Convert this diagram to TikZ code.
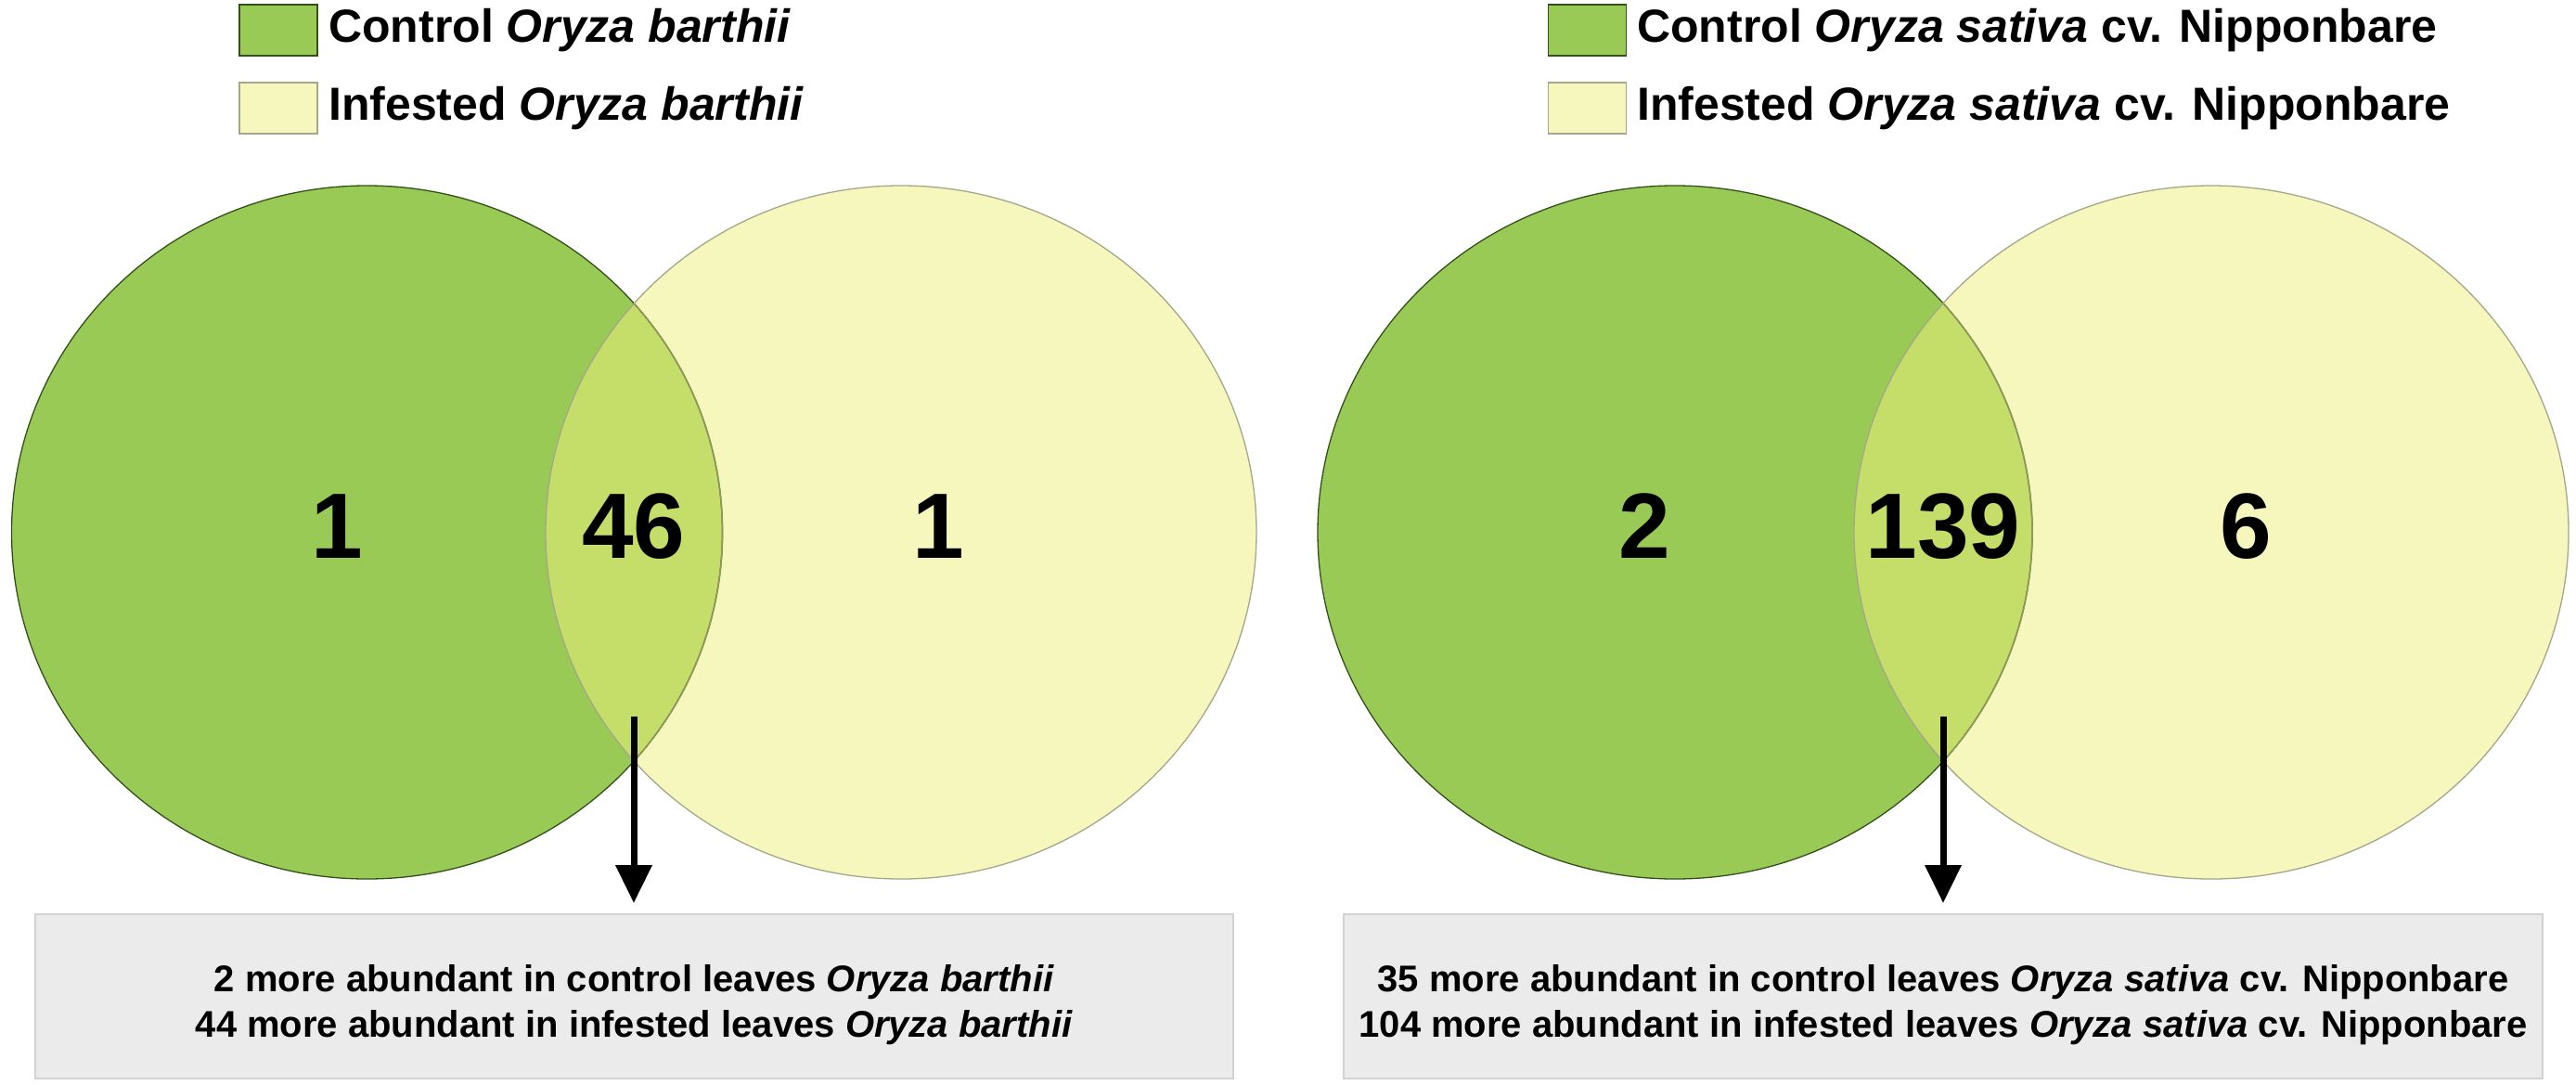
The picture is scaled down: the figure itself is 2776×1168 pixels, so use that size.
\documentclass[tikz,border=0pt]{standalone}
\usepackage{fontspec}
\setmainfont{Liberation Sans}
\usetikzlibrary{arrows.meta}
\definecolor{ctrlgreen}{HTML}{9ACA56}
\definecolor{infyellow}{HTML}{F5F7BD}
\definecolor{overlapc}{HTML}{C5DD69}
\definecolor{ctrledge}{HTML}{34501A}
\definecolor{infedge}{HTML}{A6A68A}
\definecolor{inneredge}{HTML}{8E9A5A}
\definecolor{boxfill}{HTML}{EBEBEB}
\definecolor{boxedge}{HTML}{D2D2D2}
\tikzset{
  legsq/.style={draw, line width=1.5bp, minimum width=84bp, minimum height=55bp, inner sep=0pt},
  legtext/.style={anchor=west, inner sep=0pt, font=\fontsize{50bp}{60bp}\selectfont\bfseries},
  count/.style={inner sep=0pt, font=\fontsize{100bp}{110bp}\selectfont\bfseries},
  resbox/.style={draw=boxedge, line width=2bp, fill=boxfill, minimum width=1291bp, minimum height=177bp, inner sep=0pt},
  restext/.style={anchor=base, inner sep=0pt, font=\fontsize{40bp}{46bp}\selectfont\bfseries},
  downarrow/.style={line width=7bp, -{Triangle[length=41bp,width=38bp]}, shorten >=11bp},
}
\begin{document}
\begin{tikzpicture}[x=1bp,y=-1bp]
\useasboundingbox (0,0) rectangle (2776,1168);
\fill[white] (0,0) rectangle (2776,1168);

% ---------- left Venn ----------
\fill[ctrlgreen] (395.5,573.5) ellipse [x radius=383bp, y radius=373.5bp];
\fill[infyellow] (971,573.5) ellipse [x radius=383bp, y radius=373.5bp];
\begin{scope}
  \clip (395.5,573.5) ellipse [x radius=383bp, y radius=373.5bp];
  \fill[overlapc] (971,573.5) ellipse [x radius=383bp, y radius=373.5bp];
\end{scope}
\draw[ctrledge, line width=1.3bp] (395.5,573.5) ellipse [x radius=383bp, y radius=373.5bp];
\begin{scope}
  \clip (971,573.5) ellipse [x radius=383bp, y radius=373.5bp];
  \draw[inneredge, line width=1.6bp] (395.5,573.5) ellipse [x radius=383bp, y radius=373.5bp];
\end{scope}
\draw[infedge, line width=1.3bp] (971,573.5) ellipse [x radius=383bp, y radius=373.5bp];

% ---------- right Venn ----------
\fill[ctrlgreen] (1805,573.5) ellipse [x radius=385bp, y radius=373.5bp];
\fill[infyellow] (2383,573.5) ellipse [x radius=385bp, y radius=373.5bp];
\begin{scope}
  \clip (1805,573.5) ellipse [x radius=385bp, y radius=373.5bp];
  \fill[overlapc] (2383,573.5) ellipse [x radius=385bp, y radius=373.5bp];
\end{scope}
\draw[ctrledge, line width=1.3bp] (1805,573.5) ellipse [x radius=385bp, y radius=373.5bp];
\begin{scope}
  \clip (2383,573.5) ellipse [x radius=385bp, y radius=373.5bp];
  \draw[inneredge, line width=1.6bp] (1805,573.5) ellipse [x radius=385bp, y radius=373.5bp];
\end{scope}
\draw[infedge, line width=1.3bp] (2383,573.5) ellipse [x radius=385bp, y radius=373.5bp];

% ---------- counts ----------
\node[count] (nL1) at (363,567) {1};
\node[count] (nL2) at (683,567) {46};
\node[count] (nL3) at (1011,567) {1};
\node[count] (nR1) at (1772,567) {2};
\node[count] (nR2) at (2094,567) {139};
\node[count] (nR3) at (2420,567) {6};

% ---------- legends ----------
\node[legsq, draw=ctrledge, fill=ctrlgreen] (lsq1) at (300,32.5) {};
\node[legsq, draw=infedge, fill=infyellow] (lsq2) at (300,116.5) {};
\node[legtext] (lt1) at (354,32.5) {Control \textit{Oryza barthii}};
\node[legtext] (lt2) at (354,116.5) {Infested \textit{Oryza barthii}};

\node[legsq, draw=ctrledge, fill=ctrlgreen] (rsq1) at (1710.5,32.5) {};
\node[legsq, draw=infedge, fill=infyellow] (rsq2) at (1710.5,116.5) {};
\node[legtext] (rt1) at (1764,32.5) {Control \textit{Oryza sativa} cv. Nipponbare};
\node[legtext] (rt2) at (1764,116.5) {Infested \textit{Oryza sativa} cv. Nipponbare};

% ---------- result boxes ----------
\node[resbox] (boxL) at (683.5,1073.5) {};
\node[resbox, minimum width=1292bp] (boxR) at (2094,1073.5) {};
\node[restext] (tL1) at (683.5,1068) {2 more abundant in control leaves \textit{Oryza barthii}};
\node[restext] (tL2) at (683.5,1117) {44 more abundant in infested leaves \textit{Oryza barthii}};
\node[restext] (tR1) at (2094,1068) {35 more abundant in control leaves \textit{Oryza sativa} cv. Nipponbare};
\node[restext] (tR2) at (2094,1117) {104 more abundant in infested leaves \textit{Oryza sativa} cv. Nipponbare};

% ---------- arrows ----------
\coordinate (aL) at (683,772);
\coordinate (aR) at (2094,772);
\draw[downarrow] (aL) -- (aL |- boxL.north);
\draw[downarrow] (aR) -- (aR |- boxR.north);
\end{tikzpicture}
\end{document}
